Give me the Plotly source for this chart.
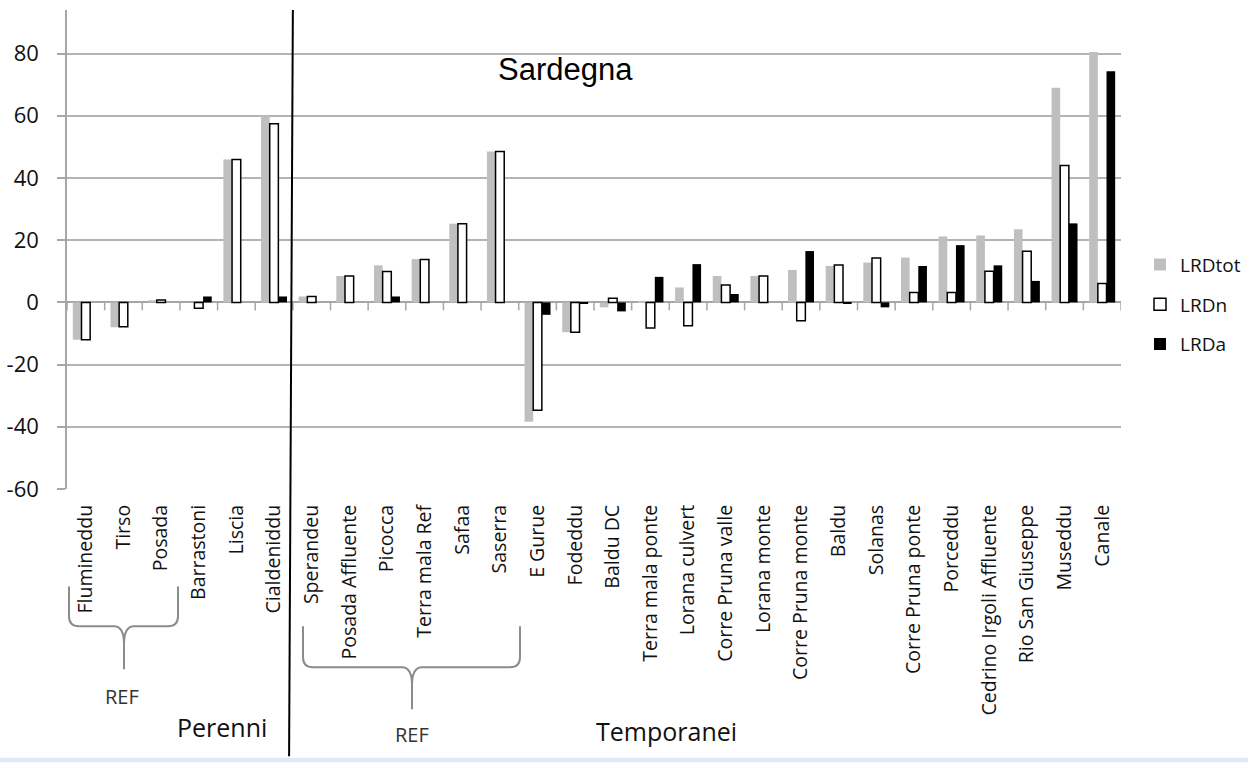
import plotly.graph_objects as go

# Sites (Sardegna): perennial streams first, then temporary streams
sites = [
    "Flumineddu", "Tirso", "Posada", "Barrastoni", "Liscia", "Cialdeniddu",
    "Sperandeu", "Posada Affluente", "Picocca", "Terra mala Ref", "Safaa", "Saserra",
    "E Gurue", "Fodeddu", "Baldu DC", "Terra mala ponte", "Lorana culvert",
    "Corre Pruna valle", "Lorana monte", "Corre Pruna monte", "Baldu", "Solanas",
    "Corre Pruna ponte", "Porceddu", "Cedrino Irgoli Affluente", "Rio San Giuseppe",
    "Museddu", "Canale",
]

lrd_tot = [-12.0, -8.0, 0.7, 0.0, 45.9, 59.9,
           1.9, 8.5, 11.9, 13.9, 25.3, 48.5,
           -38.4, -9.6, -1.6, 0.5, 4.8,
           8.5, 8.5, 10.4, 11.7, 12.8,
           14.4, 21.2, 21.5, 23.5,
           69.0, 80.5]

lrd_n = [-12.0, -7.8, 0.8, -1.9, 45.9, 57.4,
         1.9, 8.5, 9.9, 13.8, 25.3, 48.5,
         -34.7, -9.6, 1.3, -8.2, -7.5,
         5.6, 8.5, -5.9, 12.0, 14.3,
         3.2, 3.2, 10.0, 16.4,
         44.0, 6.1]

lrd_a = [0.0, 0.0, 0.0, 1.9, 0.0, 1.9,
         0.0, 0.0, 1.9, 0.0, 0.0, 0.0,
         -4.0, -0.3, -2.9, 8.2, 12.3,
         2.7, 0.0, 16.5, -0.3, -1.6,
         11.7, 18.4, 11.9, 6.9,
         25.4, 74.3]

y_ticks = [-60, -40, -20, 0, 20, 40, 60, 80]

FONT = "Open Sans"
W, H = 1248, 763
L, R, T, B = 67, 127, 10, 273.5
PW, PH = W - L - R, H - T - B


def px(x):
    return (x - L) / PW


def py(y):
    return (H - B - y) / PH


fig = go.Figure()
fig.add_trace(go.Bar(x=sites, y=lrd_tot, name="LRDtot", legendgroup="a",
                     marker=dict(color="#bfbfbf", line=dict(width=0))))
fig.add_trace(go.Bar(x=sites, y=lrd_n, name="LRDn", legendgroup="b",
                     marker=dict(color="#ffffff", line=dict(color="#000000", width=1.5))))
fig.add_trace(go.Bar(x=sites, y=lrd_a, name="LRDa", legendgroup="c",
                     marker=dict(color="#000000", line=dict(width=0))))

shapes = []

# category tick marks hanging below the zero line
for i in range(len(sites) + 1):
    shapes.append(dict(type="line", xref="x", yref="y", ysizemode="pixel", yanchor=0,
                       x0=i - 0.5, x1=i - 0.5, y0=0, y1=-8,
                       line=dict(color="#a6a6a6", width=1.5), layer="below"))

# divider between perennial and temporary streams
shapes.append(dict(type="line", xref="x", yref="paper",
                   x0=5.5, x1=5.4, y0=1.0, y1=py(757),
                   line=dict(color="#000000", width=2)))


def brace(x0, x1, xm, ytop, ymid, ybot, r=10):
    pts = [
        f"M {px(x0)},{py(ytop)}",
        f"L {px(x0)},{py(ymid - r)}",
        f"Q {px(x0)},{py(ymid)} {px(x0 + r)},{py(ymid)}",
        f"L {px(xm - r)},{py(ymid)}",
        f"Q {px(xm)},{py(ymid)} {px(xm)},{py(ymid + 18)}",
        f"L {px(xm)},{py(ybot)}",
        f"M {px(xm)},{py(ymid + 18)}",
        f"Q {px(xm)},{py(ymid)} {px(xm + r)},{py(ymid)}",
        f"L {px(x1 - r)},{py(ymid)}",
        f"Q {px(x1)},{py(ymid)} {px(x1)},{py(ymid - r)}",
        f"L {px(x1)},{py(ytop)}",
    ]
    return dict(type="path", xref="paper", yref="paper", path=" ".join(pts),
                line=dict(color="#8c8c8c", width=2))


shapes.append(brace(69, 178, 124, 587, 627, 670))
shapes.append(brace(303, 520, 412, 627, 668, 710))

# light band along the bottom edge
shapes.append(dict(type="rect", xref="paper", yref="paper",
                   x0=px(0), x1=px(W), y0=py(763), y1=py(758.5),
                   fillcolor="#dfe8f5", line=dict(width=0)))

annotations = [
    dict(text="Sardegna", x=px(565), y=py(70), font=dict(family="Liberation Sans, Arial", size=31, color="#000000")),
    dict(text="REF", x=px(122), y=py(697), font=dict(family=FONT, size=20, color="#333333")),
    dict(text="REF", x=px(412), y=py(735), font=dict(family=FONT, size=20, color="#333333")),
    dict(text="Perenni", x=px(222), y=py(728), font=dict(family=FONT, size=25, color="#111111")),
    dict(text="Temporanei", x=px(666), y=py(732), font=dict(family=FONT, size=25, color="#111111")),
]
for a in annotations:
    a.update(xref="paper", yref="paper", showarrow=False, xanchor="center", yanchor="middle")

fig.update_layout(
    width=W, height=H,
    margin=dict(l=L, r=R, t=T, b=B, autoexpand=False),
    paper_bgcolor="#ffffff", plot_bgcolor="#ffffff",
    barmode="group", bargap=0.31, bargroupgap=0,
    font=dict(family=FONT, color="#111111"),
    showlegend=True,
    legend=dict(x=px(1140), y=py(246), xanchor="left", yanchor="top",
                font=dict(family=FONT, size=19, color="#111111"),
                tracegroupgap=12, itemwidth=30, bgcolor="rgba(0,0,0,0)"),
    shapes=shapes,
    annotations=annotations,
)

fig.update_xaxes(
    type="category", range=[-0.5, len(sites) - 0.5],
    tickangle=-90, tickfont=dict(family=FONT, size=19.5, color="#111111"),
    ticks="", showgrid=False, showline=False, zeroline=False,
    ticklabelstandoff=11,
)

fig.update_yaxes(
    range=[-60, 94], tickvals=y_ticks, ticktext=[str(v) for v in y_ticks],
    tickfont=dict(family=FONT, size=22, color="#111111"),
    showgrid=True, gridcolor="#b4b4b4", gridwidth=1.5,
    zeroline=True, zerolinecolor="#a6a6a6", zerolinewidth=1.5,
    showline=True, linecolor="#a6a6a6", linewidth=1.5,
    ticks="outside", ticklen=8, tickcolor="#a6a6a6", tickwidth=1.5,
    ticklabelstandoff=14,
)

fig.write_html("out.html")
